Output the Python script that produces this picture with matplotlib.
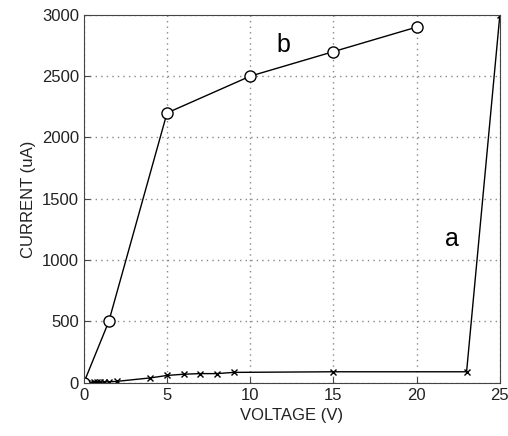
import matplotlib
matplotlib.use("Agg")
import matplotlib.pyplot as plt

va = [0, 0.2, 0.4, 0.6, 0.8, 1.0, 1.2, 1.5, 2.0, 4, 5, 6, 7, 8, 9, 15, 23, 25]
ia = [0, 1, 2, 3, 4, 5, 6, 8, 12, 40, 60, 70, 75, 75, 85, 90, 90, 3000]
vb = [0, 1.5, 5, 10, 15, 20]
ib = [0, 500, 2200, 2500, 2700, 2900]
xticks = [0, 5, 10, 15, 20, 25]
yticks = [0, 500, 1000, 1500, 2000, 2500, 3000]

plt.rcParams['font.family'] = ['Liberation Sans', 'DejaVu Sans']
fig = plt.figure(figsize=(5.08, 4.36), dpi=100)
ax = fig.add_axes([0.165, 0.122, 0.819, 0.844])
ax.plot(va, ia, color='black', lw=1, marker='x', ms=5, mew=1)
ax.plot(vb, ib, color='black', lw=1, marker='o', ms=8, mfc='white', mew=1)
ax.set_xlim(0, 25)
ax.set_ylim(0, 3000)
ax.set_xticks(xticks)
ax.set_yticks(yticks)
ax.tick_params(labelsize=12, direction='in', length=4, color='#444444', labelcolor='#222222')
ax.grid(True, color='#888888', linestyle=(0, (1, 3)), lw=1)
for s in ax.spines.values():
    s.set_color('#444444')
ax.set_xlabel('VOLTAGE (V)', fontsize=12, labelpad=4, color='#222222')
ax.set_ylabel('CURRENT (uA)', fontsize=12, labelpad=4, color='#222222')
ax.text(12, 2750, 'b', fontsize=18, ha='center', va='center')
ax.text(22.1, 1170, 'a', fontsize=18, ha='center', va='center')
fig.savefig('out.png', dpi=100)
